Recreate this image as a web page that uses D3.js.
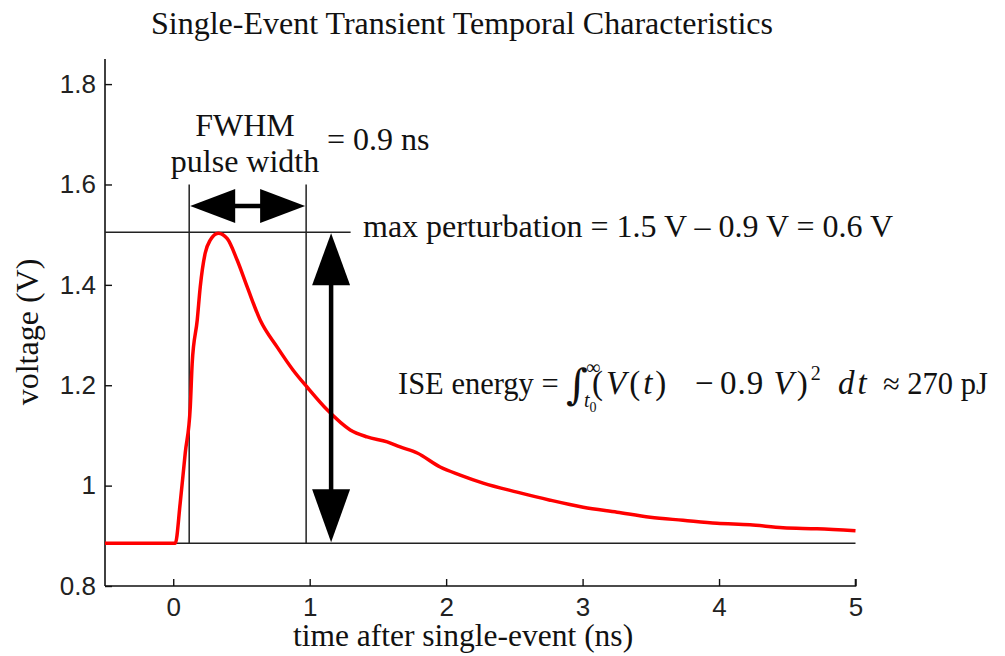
<!DOCTYPE html>
<html lang="en">
<head>
<meta charset="UTF-8">
<title>Single-Event Transient</title>
<script src="https://cdn.jsdelivr.net/npm/d3@7"></script>
<style>
  body { margin: 0; background: #fff; }
  .serif { font-family: "Liberation Serif", "Times New Roman", serif; fill: #111; }
  .tick text { font-family: "Liberation Sans", Arial, sans-serif; font-size: 26px; fill: #222; }
</style>
</head>
<body>
<svg width="1005" height="656"></svg>
<script>
// transient waveform
const timeNs = [-0.5, 0.015, 0.051, 0.088, 0.125, 0.139, 0.176, 0.198, 0.234, 0.271, 0.33, 0.396, 0.469, 0.542, 0.637, 0.762, 0.879, 0.982, 1.128, 1.297, 1.421, 1.568, 1.663, 1.788, 1.956, 2.103, 2.271, 2.52, 2.762, 3.004, 3.253, 3.495, 3.736, 3.985, 4.227, 4.469, 4.718, 5.0]
const voltage = [0.885, 0.885, 0.965, 1.065, 1.157, 1.244, 1.33, 1.396, 1.463, 1.489, 1.503, 1.492, 1.449, 1.396, 1.33, 1.276, 1.23, 1.196, 1.151, 1.111, 1.097, 1.087, 1.077, 1.065, 1.037, 1.021, 1.005, 0.987, 0.971, 0.957, 0.947, 0.937, 0.931, 0.925, 0.922, 0.916, 0.914, 0.91]

const xTicks = [0, 1, 2, 3, 4, 5]
const yTicks = [0.8, 1, 1.2, 1.4, 1.6, 1.8]

// annotation values
const baseV = 0.885
const peakV = 1.505
const fwhmT = [0.117, 0.974]
const fwhmTopV = 1.6
const fwhmArrowV = 1.557
const peakLineEndT = 1.3
const arrowT = 1.157

const svg = d3.select('svg')
const x = d3.scaleLinear().domain([-0.5, 5]).range([105, 855.5])
const y = d3.scaleLinear().domain([0.8, 1.85]).range([586, 59])

// axes (ticks pointing inward)
const gx = svg.append('g').attr('transform', 'translate(0,' + y(0.8) + ')')
  .call(d3.axisBottom(x).tickValues(xTicks).tickSize(-7).tickPadding(12).tickFormat(d3.format('~g')))
const gy = svg.append('g').attr('transform', 'translate(' + x(-0.5) + ',0)')
  .call(d3.axisLeft(y).tickValues(yTicks).tickSize(-7).tickPadding(9).tickFormat(d3.format('~g')))
svg.selectAll('.domain').attr('stroke', '#111').attr('stroke-width', 1.6)
svg.selectAll('.tick line').attr('stroke', '#111').attr('stroke-width', 1.4)
gx.select('.domain').attr('d', 'M' + x(-0.5) + ',0H' + x(5) + 'V-7')
gy.select('.domain').attr('d', 'M0,' + (y(1.85)) + 'V' + y(0.8))

// reference lines
const ln = (t1, v1, t2, v2, w) => svg.append('line')
  .attr('x1', x(t1)).attr('y1', y(v1)).attr('x2', x(t2)).attr('y2', y(v2))
  .attr('stroke', '#222').attr('stroke-width', w || 1.5)
ln(-0.5, baseV, 5, baseV)
ln(-0.5, peakV, peakLineEndT, peakV)
ln(fwhmT[0], fwhmTopV, fwhmT[0], baseV)
ln(fwhmT[1], fwhmTopV, fwhmT[1], baseV)

// the curve
const line = d3.line().x((d, i) => x(timeNs[i])).y(d => y(d)).curve(d3.curveMonotoneX)
svg.append('path').datum(voltage).attr('d', line)
  .attr('fill', 'none').attr('stroke', '#ff0000').attr('stroke-width', 3.5).attr('stroke-linejoin', 'round')

// arrows
const head = (tx, ty, dx, dy, len, half) => {
  // triangle with tip at (tx,ty) pointing in direction (dx,dy)
  const bx = tx - dx * len, by = ty - dy * len
  const px = -dy * half, py = dx * half
  svg.append('path')
    .attr('d', 'M' + tx + ',' + ty + 'L' + (bx + px) + ',' + (by + py) + 'L' + (bx - px) + ',' + (by - py) + 'Z')
    .attr('fill', '#000')
}
// horizontal FWHM arrow
const ha = y(fwhmArrowV)
svg.append('line').attr('x1', x(fwhmT[0]) + 10).attr('x2', x(fwhmT[1]) - 10)
  .attr('y1', ha).attr('y2', ha).attr('stroke', '#000').attr('stroke-width', 4.5)
head(x(fwhmT[0]) + 1, ha, -1, 0, 45, 17)
head(x(fwhmT[1]) - 1, ha, 1, 0, 45, 17)
// vertical max perturbation arrow
const va = x(arrowT)
svg.append('line').attr('x1', va).attr('x2', va)
  .attr('y1', y(peakV) + 10).attr('y2', y(baseV) - 10).attr('stroke', '#000').attr('stroke-width', 4.5)
head(va, y(peakV) + 1, 0, -1, 52, 19)
head(va, y(baseV) - 1, 0, 1, 53, 19)

// texts
const txt = (s, tx, ty, size, anchor) => svg.append('text').attr('class', 'serif')
  .attr('x', tx).attr('y', ty).attr('font-size', size).attr('text-anchor', anchor || 'start').text(s)

txt('Single-Event Transient Temporal Characteristics', 462, 34, 32, 'middle')
txt('time after single-event (ns)', 463, 646, 31.5, 'middle')
svg.append('text').attr('class', 'serif').attr('font-size', 32).attr('text-anchor', 'middle')
  .attr('transform', 'translate(38,332) rotate(-90)').text('voltage (V)')

txt('FWHM', 245, 136, 32, 'middle')
txt('pulse width', 245, 172, 32, 'middle')
txt('= 0.9 ns', 327, 150, 32)
txt('max perturbation = 1.5 V \u2013 0.9 V = 0.6 V', 363, 237, 32)

// ISE energy formula, pieces placed along the line
const ise = svg.append('text').attr('class', 'serif').attr('y', 394).attr('font-size', 30.5)
ise.append('tspan').attr('x', 398).text('ISE energy =')
ise.append('tspan').attr('x', 566).attr('y', 399).attr('font-family', 'DejaVu Serif').attr('font-size', 42)
  .attr('font-style', 'italic').text('\u222B')
ise.append('tspan').attr('x', 586).attr('y', 374).attr('font-size', 20).text('\u221E')
ise.append('tspan').attr('x', 584).attr('y', 407).attr('font-size', 20).attr('font-style', 'italic').text('t')
ise.append('tspan').attr('y', 412).attr('font-size', 14).text('0')
const m = ise.append('tspan').attr('font-size', 33).attr('letter-spacing', 3)
m.append('tspan').attr('x', 592).attr('y', 394).text('(')
m.append('tspan').attr('font-style', 'italic').text('V')
m.append('tspan').text('(')
m.append('tspan').attr('font-style', 'italic').text('t')
m.append('tspan').text(')')
m.append('tspan').attr('x', 695).text('\u2212')
m.append('tspan').attr('x', 720).attr('letter-spacing', 1).text('0.9 ')
m.append('tspan').attr('font-style', 'italic').text('V')
m.append('tspan').text(')')
m.append('tspan').attr('y', 380).attr('font-size', 20).text('2')
m.append('tspan').attr('x', 838).attr('y', 394).attr('font-style', 'italic').text('dt')
ise.append('tspan').attr('x', 883).attr('y', 394).text('\u2248 270 pJ')
</script>
</body>
</html>
